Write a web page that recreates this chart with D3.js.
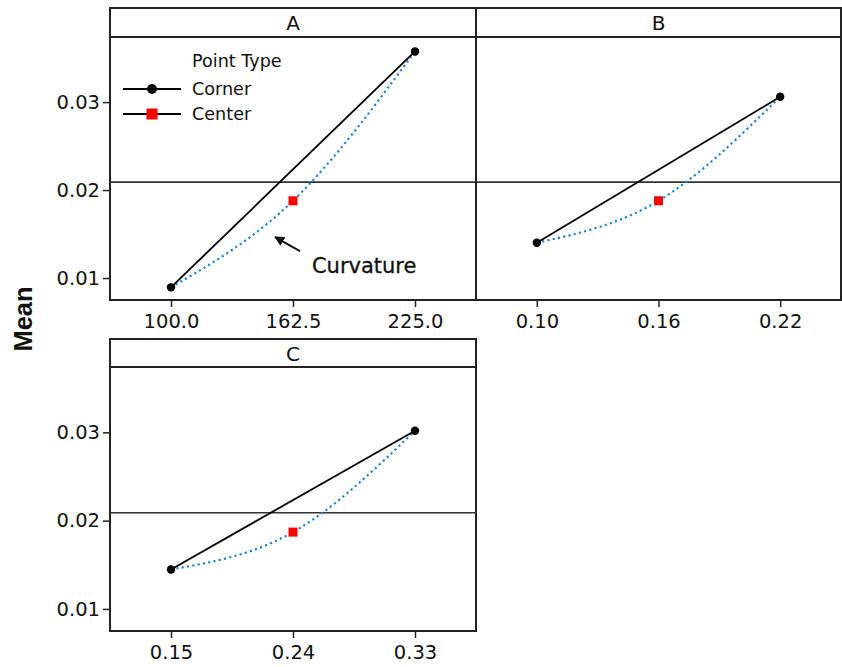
<!DOCTYPE html>
<html>
<head>
<meta charset="utf-8">
<script src="https://cdn.jsdelivr.net/npm/d3@7"></script>
<style>
  html, body { margin: 0; padding: 0; background: #fff; }
  svg { display: block; }
  text { font-family: "DejaVu Sans", Verdana, sans-serif; fill: #111; }
</style>
</head>
<body>
<svg id="chart" width="842" height="667"></svg>
<script>
// Main effects of each factor on the mean response, corner runs vs. center point
const factors = ["A", "B", "C"];
const factorLevels = [
  [100.0, 162.5, 225.0],
  [0.10, 0.16, 0.22],
  [0.15, 0.24, 0.33]
];
const levelLabels = [
  ["100.0", "162.5", "225.0"],
  ["0.10", "0.16", "0.22"],
  ["0.15", "0.24", "0.33"]
];
const cornerLow = [0.00894, 0.01401, 0.01447];
const cornerHigh = [0.03576, 0.03060, 0.03018];
const centerMean = [0.01878, 0.01878, 0.01870];
const overallMean = 0.0209;
const yTicks = [0.01, 0.02, 0.03];
const yTickLabels = ["0.01", "0.02", "0.03"];
const yDomain = [0.0075, 0.0374];

const svg = d3.select("#chart");

// panel grid: two columns on the first row, one on the second
const panels = [
  { x0: 110, x1: 476, top: 8,   strip: 37,  bottom: 300, showY: true },
  { x0: 476, x1: 841, top: 8,   strip: 37,  bottom: 300, showY: false },
  { x0: 110, x1: 476, top: 339, strip: 367, bottom: 631, showY: true }
];

const blue = "#1f86d8";
const frame = "#222";
const tickFont = 19.5;

panels.forEach((p, i) => {
  const lv = factorLevels[i];
  const span = lv[2] - lv[0];
  const x = d3.scaleLinear().domain([lv[0] - span / 4, lv[2] + span / 4]).range([p.x0, p.x1]);
  const y = d3.scaleLinear().domain(yDomain).range([p.bottom, p.strip]);
  const g = svg.append("g");

  // strip with factor name
  g.append("rect").attr("x", p.x0).attr("y", p.top)
    .attr("width", p.x1 - p.x0).attr("height", p.strip - p.top)
    .attr("fill", "#fff").attr("stroke", frame).attr("stroke-width", 2);
  g.append("text").attr("x", (p.x0 + p.x1) / 2).attr("y", p.top + 22)
    .attr("text-anchor", "middle").attr("font-size", 20).text(factors[i]);

  // plot frame
  g.append("rect").attr("x", p.x0).attr("y", p.strip)
    .attr("width", p.x1 - p.x0).attr("height", p.bottom - p.strip)
    .attr("fill", "none").attr("stroke", frame).attr("stroke-width", 2);

  // overall mean reference line
  g.append("line").attr("x1", p.x0).attr("x2", p.x1)
    .attr("y1", y(overallMean)).attr("y2", y(overallMean))
    .attr("stroke", "#333").attr("stroke-width", 1.6);

  // x axis
  const xAxis = d3.axisBottom(x).tickValues(lv)
    .tickFormat((d, k) => levelLabels[i][k]).tickSize(7).tickPadding(7);
  const gx = g.append("g").attr("transform", `translate(0,${p.bottom})`).call(xAxis);
  gx.select(".domain").remove();
  gx.selectAll("line").attr("stroke", frame).attr("stroke-width", 1.5);
  gx.selectAll("text").attr("font-size", tickFont).attr("font-family", "DejaVu Sans").attr("fill", "#111");

  // y axis on left column
  if (p.showY) {
    const yAxis = d3.axisLeft(y).tickValues(yTicks)
      .tickFormat((d, k) => yTickLabels[k]).tickSize(7).tickPadding(3);
    const gy = g.append("g").attr("transform", `translate(${p.x0},0)`).call(yAxis);
    gy.select(".domain").remove();
    gy.selectAll("line").attr("stroke", frame).attr("stroke-width", 1.5);
    gy.selectAll("text").attr("font-size", tickFont).attr("font-family", "DejaVu Sans").attr("fill", "#111");
  }

  // curvature path through corners and center point
  const curvePts = [[lv[0], cornerLow[i]], [lv[1], centerMean[i]], [lv[2], cornerHigh[i]]];
  g.append("path").datum(curvePts)
    .attr("d", d3.line().x(d => x(d[0])).y(d => y(d[1])).curve(d3.curveNatural))
    .attr("fill", "none").attr("stroke", blue).attr("stroke-width", 2.2)
    .attr("stroke-dasharray", "2.2,3.2");

  // corner line
  const cornerPts = [[lv[0], cornerLow[i]], [lv[2], cornerHigh[i]]];
  g.append("path").datum(cornerPts)
    .attr("d", d3.line().x(d => x(d[0])).y(d => y(d[1])))
    .attr("fill", "none").attr("stroke", "#000").attr("stroke-width", 1.8);

  g.selectAll("circle.corner").data(cornerPts).join("circle")
    .attr("cx", d => x(d[0])).attr("cy", d => y(d[1])).attr("r", 4.2).attr("fill", "#000");

  g.append("rect")
    .attr("x", x(lv[1]) - 4.5).attr("y", y(centerMean[i]) - 4.5)
    .attr("width", 9).attr("height", 9).attr("fill", "#ff0000");

  // legend and annotation in the first panel
  if (i === 0) {
    const lg = g.append("g");
    lg.append("text").attr("x", 192).attr("y", 67).attr("font-size", 17.6).text("Point Type");
    const rows = [{ label: "Corner", cy: 89 }, { label: "Center", cy: 114 }];
    rows.forEach((r, k) => {
      lg.append("line").attr("x1", 123).attr("x2", 181).attr("y1", r.cy).attr("y2", r.cy)
        .attr("stroke", "#000").attr("stroke-width", 1.8);
      if (k === 0) {
        lg.append("circle").attr("cx", 152).attr("cy", r.cy).attr("r", 5).attr("fill", "#000");
      } else {
        lg.append("rect").attr("x", 146.5).attr("y", r.cy - 5.5).attr("width", 11).attr("height", 11).attr("fill", "#ff0000");
      }
      lg.append("text").attr("x", 192).attr("y", r.cy + 6).attr("font-size", 17.6).text(r.label);
    });

    // arrow labelled "Curvature"
    const tip = [153.3, 0.01466], tail = [166.1, 0.01307], labelAt = [172.2, 0.01057];
    const defs = svg.append("defs");
    defs.append("marker").attr("id", "arrowhead").attr("viewBox", "0 0 10 10")
      .attr("refX", 9).attr("refY", 5).attr("markerWidth", 5).attr("markerHeight", 5)
      .attr("orient", "auto")
      .append("path").attr("d", "M0,0 L10,5 L0,10 z").attr("fill", "#111");
    g.append("line")
      .attr("x1", x(tail[0])).attr("y1", y(tail[1]))
      .attr("x2", x(tip[0])).attr("y2", y(tip[1]))
      .attr("stroke", "#111").attr("stroke-width", 2).attr("marker-end", "url(#arrowhead)");
    g.append("text").attr("x", x(labelAt[0])).attr("y", y(labelAt[1]))
      .attr("font-size", 21).attr("stroke", "#111").attr("stroke-width", 0.3).text("Curvature");
  }
});

// shared y axis title
svg.append("text")
  .attr("transform", "translate(32,319) rotate(-90)")
  .attr("text-anchor", "middle")
  .attr("font-weight", "bold").attr("font-size", 25.5)
  .style("font-family", "'Liberation Sans', Arial, sans-serif")
  .text("Mean");
</script>
</body>
</html>
